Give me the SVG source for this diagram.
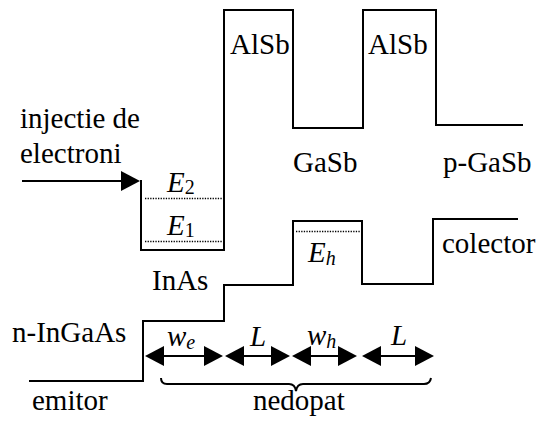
<svg xmlns="http://www.w3.org/2000/svg" width="540" height="426" viewBox="0 0 540 426">
<style>
.b{fill:none;stroke:#000;stroke-width:2;stroke-linejoin:miter}
.d{fill:none;stroke:#000;stroke-width:1.3;stroke-dasharray:1.3,1.3}
.a{fill:none;stroke:#000;stroke-width:2}
text{font-family:"Liberation Serif","Times New Roman",serif;font-size:29px;fill:#000}
.i{font-style:italic}
.s{font-size:20px}
</style>
<defs>
<marker id="ah" viewBox="0 0 19 20" refX="0" refY="10" markerWidth="19" markerHeight="20" markerUnits="userSpaceOnUse" orient="auto-start-reverse"><path d="M0,0 L19,10 L0,20 z" fill="#000"/></marker>
</defs>
<rect width="540" height="426" fill="#fff"/>
<g id="conduction-band">
<path class="b" d="M141,180 V250 H224 V10 H293 V128 H363 V10 H436 V125 H523"/>
<line class="d" x1="145" y1="198.5" x2="222" y2="198.5"/>
<line class="d" x1="145" y1="241.5" x2="222" y2="241.5"/>
</g>
<g id="valence-band">
<path class="b" d="M29,381 H143 V321 H224 V285 H293 V221 H362 V284 H433 V219 H518"/>
<line class="d" x1="296" y1="231.5" x2="361" y2="231.5"/>
</g>
<g id="connectors">
<line class="a" x1="22" y1="181" x2="121" y2="181" marker-end="url(#ah)"/>
<line class="a" x1="164" y1="356" x2="204" y2="356" marker-start="url(#ah)" marker-end="url(#ah)"/>
<line class="a" x1="244" y1="356" x2="271" y2="356" marker-start="url(#ah)" marker-end="url(#ah)"/>
<line class="a" x1="311" y1="356" x2="338" y2="356" marker-start="url(#ah)" marker-end="url(#ah)"/>
<line class="a" x1="381" y1="356" x2="415" y2="356" marker-start="url(#ah)" marker-end="url(#ah)"/>
<path class="a" stroke-width="1.6" d="M161,378 Q161,384 167,384 H289 Q295,384 296,391 Q297,384 303,384 H424 Q430,384 431,378"/>
</g>
<g id="labels">
<text x="230" y="54">AlSb</text>
<text x="368" y="54">AlSb</text>
<text x="20" y="128">injectie de</text>
<text x="20" y="163">electroni</text>
<text x="293" y="172">GaSb</text>
<text x="443" y="172">p-GaSb</text>
<text x="167" y="192"><tspan class="i">E</tspan><tspan class="s" dy="2">2</tspan></text>
<text x="167" y="235"><tspan class="i">E</tspan><tspan class="s" dy="2">1</tspan></text>
<text x="152" y="290">InAs</text>
<text x="308" y="262"><tspan class="i">E</tspan><tspan class="i s" dy="3">h</tspan></text>
<text x="442" y="253">colector</text>
<text x="12" y="342">n-InGaAs</text>
<text x="167" y="346"><tspan class="i">w</tspan><tspan class="i s" dy="3">e</tspan></text>
<text x="250" y="346" class="i">L</text>
<text x="307" y="345"><tspan class="i">w</tspan><tspan class="i s" dy="3">h</tspan></text>
<text x="391" y="345" class="i">L</text>
<text x="32" y="410">emitor</text>
<text x="253" y="410">nedopat</text>
</g>
</svg>
